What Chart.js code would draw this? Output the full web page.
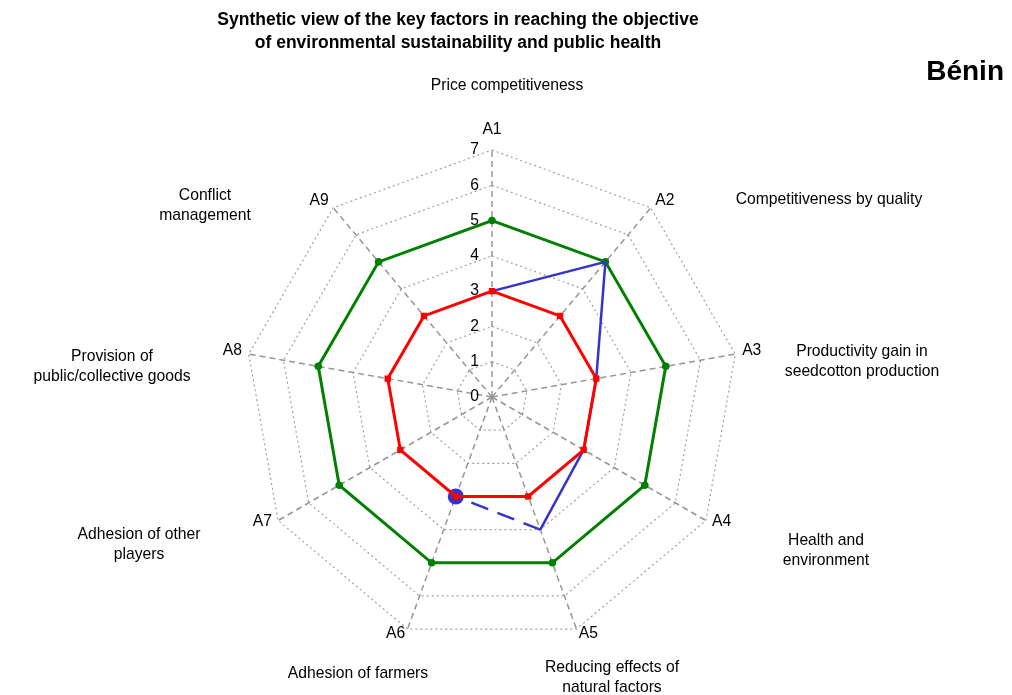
<!DOCTYPE html>
<html lang="en">
<head>
<meta charset="UTF-8">
<title>Bénin radar</title>
<style>
  body { margin: 0; background: #fff; }
  .wrap { position: relative; width: 1012px; height: 695px; }
</style>
</head>
<body>
<div class="wrap"><canvas id="radar"></canvas></div>
<script src="https://cdn.jsdelivr.net/npm/chart.js"></script>
<script>
  // axes and values
  const axisCodes = ['A1', 'A2', 'A3', 'A4', 'A5', 'A6', 'A7', 'A8', 'A9'];
  const axisNames = [
    ['Price competitiveness'],
    ['Competitiveness by quality'],
    ['Productivity gain in', 'seedcotton production'],
    ['Health and', 'environment'],
    ['Reducing effects of', 'natural factors'],
    ['Adhesion of farmers'],
    ['Adhesion of other', 'players'],
    ['Provision of', 'public/collective goods'],
    ['Conflict', 'management']
  ];
  const tickValues = [0, 1, 2, 3, 4, 5, 6, 7];
  const redValues = [3, 3, 3, 3, 3, 3, 3, 3, 3];
  // blue: solid from A1 to A5, dashed from A5 to A6, nothing after
  const blueSolid = [3, 5, 3, 3, 4, null, null, null, null];
  const blueDashed = [null, null, null, null, 4, 3, null, null, null];
  const greenValues = [5, 5, 5, 5, 5, 5, 5, 5, 5];

  const titleLines = ['Synthetic view of the key factors in reaching the objective',
                      'of environmental sustainability and public health'];
  const country = 'Bénin';

  // where the long axis names sit (text anchors, centre of each block)
  const nameAnchors = [[507, 86], [829, 200], [862, 352], [826, 541], [612, 668],
                       [358, 674], [139, 535], [112, 357], [205, 196]];

  const FONT = 'Arial, "Liberation Sans", sans-serif';
  const BLUE = '#3434cc';

  const textPlugin = {
    id: 'texts',
    afterDraw(chart) {
      const ctx = chart.ctx;
      const r = chart.scales.r;
      ctx.save();
      ctx.fillStyle = '#000';
      ctx.textBaseline = 'middle';

      // title
      ctx.font = 'bold 17.5px ' + FONT;
      ctx.textAlign = 'center';
      ctx.fillText(titleLines[0], 458, 20);
      ctx.fillText(titleLines[1], 458, 43);

      ctx.font = 'bold 28px ' + FONT;
      ctx.textAlign = 'right';
      ctx.fillText(country, 1004, 72);

      // tick labels left of A1 axis
      ctx.font = '15.7px ' + FONT;
      tickValues.forEach(v => {
        const d = r.getDistanceFromCenterForValue(v);
        ctx.textAlign = 'right';
        ctx.fillText(String(v), r.xCenter - 13, r.yCenter - d);
      });

      // A-codes just outside the outer ring
      axisCodes.forEach((code, i) => {
        const p = r.getPointPosition(i, r.drawingArea + 7);
        const sin = Math.sin(p.angle + Math.PI / 2);
        if (Math.abs(sin) < 0.1) {
          ctx.textAlign = 'center';
          ctx.fillText(code, p.x, p.y - 13);
        } else {
          ctx.textAlign = sin > 0 ? 'left' : 'right';
          ctx.fillText(code, p.x, p.y - 2);
        }
      });

      // long names
      axisNames.forEach((lines, i) => {
        const [x, y] = nameAnchors[i];
        ctx.textAlign = 'center';
        lines.forEach((ln, k) => ctx.fillText(ln, x, y + k * 19.5));
      });
      ctx.restore();
    }
  };

  new Chart(document.getElementById('radar'), {
    type: 'radar',
    data: {
      labels: axisCodes,
      datasets: [
        {
          data: redValues, borderColor: '#ff0000', backgroundColor: '#ff0000',
          borderWidth: 3, fill: false, pointStyle: 'rect', pointRadius: 4.5,
          pointBorderWidth: 0, tension: 0
        },
        {
          data: blueDashed, borderColor: BLUE, backgroundColor: BLUE,
          borderWidth: 2.5, fill: false, spanGaps: false, tension: 0,
          borderDash: [18, 10],
          pointRadius: c => c.dataIndex === 5 ? 8 : 0,
          pointBorderWidth: 0
        },
        {
          data: blueSolid, borderColor: BLUE, backgroundColor: BLUE,
          borderWidth: 2.5, fill: false, spanGaps: false, tension: 0,
          pointRadius: 0
        },
        {
          data: greenValues, borderColor: '#008000', backgroundColor: '#008000',
          borderWidth: 3, fill: false, pointRadius: 3.8, pointBorderWidth: 0, tension: 0
        }
      ]
    },
    options: {
      responsive: true,
      maintainAspectRatio: false,
      animation: false,
      layout: { padding: { top: 150, bottom: 51, left: 245, right: 273 } },
      plugins: { legend: { display: false }, tooltip: { enabled: false }, title: { display: false } },
      scales: {
        r: {
          min: 0, max: 7,
          ticks: { display: false, stepSize: 1 },
          pointLabels: { display: false },
          grid: { circular: false, color: '#a0a0a0', lineWidth: 1.2 },
          border: { dash: [2, 3] },
          angleLines: { color: '#969696', lineWidth: 1.5, borderDash: [6, 4] }
        }
      }
    },
    plugins: [textPlugin]
  });
</script>
</body>
</html>
